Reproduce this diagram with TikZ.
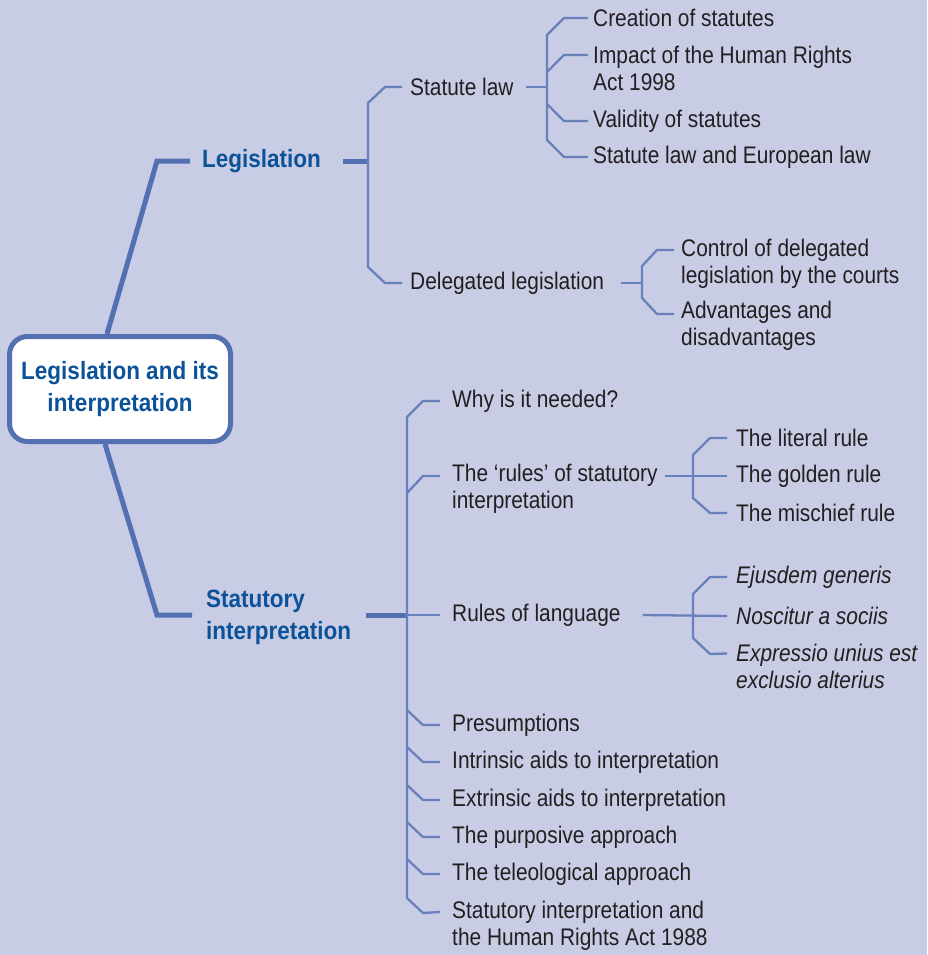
\documentclass[tikz,border=0pt]{standalone}
\usepackage{fontspec}
\setmainfont{Liberation Sans}[FakeStretch=0.87, BoldFeatures={FakeStretch=0.9}]
\definecolor{bg}{RGB}{200,204,228}
\definecolor{ln}{RGB}{104,128,188}
\definecolor{thk}{RGB}{82,112,178}
\definecolor{ttl}{RGB}{12,82,152}
\definecolor{txt}{RGB}{35,31,32}
\tikzset{
  leaf/.style={anchor=west, inner sep=0pt, font=\fontsize{24}{27}\selectfont, text=txt, align=left},
  head/.style={leaf, font=\fontsize{25}{32}\selectfont\bfseries, text=ttl},
  rootbox/.style={draw=thk, fill=white, line width=5pt, rounded corners=18pt, minimum width=221pt, minimum height=105pt, inner sep=0pt, align=center, font=\fontsize{25}{32}\selectfont\bfseries, text=ttl},
  thin/.style={draw=ln, line width=2.3pt},
  thick/.style={draw=thk, line width=5pt},
}
\begin{document}
\begin{tikzpicture}[x=1pt,y=-1pt]
\fill[bg] (0,0) rectangle (927,955);
\useasboundingbox (0,0) rectangle (927,955);

\node[rootbox] (root) at (120,389) {Legislation and its\\interpretation};
\node[head] (leg) at (202,161) {Legislation};
\node[head] (stat) at (206,617) {Statutory\\interpretation};

\node[leaf] (sl) at (410,87) {Statute law};
\node[leaf] (dl) at (410,283) {Delegated legislation};
\node[leaf] (c1) at (593,18) {Creation of statutes};
\node[leaf] (c2) at (593,68.5) {Impact of the Human Rights\\Act 1998};
\node[leaf] (c3) at (593,121) {Validity of statutes};
\node[leaf] (c4) at (593,157) {Statute law and European law};
\node[leaf] (d1) at (681,263.5) {Control of delegated\\legislation by the courts};
\node[leaf] (d2) at (681,326) {Advantages and\\disadvantages};

\node[leaf] (w) at (452,401) {Why is it needed?};
\node[leaf] (r) at (452,488.5) {The ‘rules’ of statutory\\interpretation};
\node[leaf] (lang) at (452,615) {Rules of language};
\node[leaf] (p1) at (452,725) {Presumptions};
\node[leaf] (p2) at (452,762) {Intrinsic aids to interpretation};
\node[leaf] (p3) at (452,800) {Extrinsic aids to interpretation};
\node[leaf] (p4) at (452,837) {The purposive approach};
\node[leaf] (p5) at (452,874) {The teleological approach};
\node[leaf] (p6) at (452,926) {Statutory interpretation and\\the Human Rights Act 1988};

\node[leaf] (r1) at (736,438) {The literal rule};
\node[leaf] (r2) at (736,476) {The golden rule};
\node[leaf] (r3) at (736,513) {The mischief rule};
\node[leaf,font=\fontsize{24}{27}\selectfont\itshape] (l1) at (736,577) {Ejusdem generis};
\node[leaf,font=\fontsize{24}{27}\selectfont\itshape] (l2) at (736,616) {Noscitur a sociis};
\node[leaf,font=\fontsize{24}{27}\selectfont\itshape] (l3) at (736,666.5) {Expressio unius est\\exclusio alterius};

% main branches
\draw[thick] ([xshift=-13pt]root.north) -- (157,161) -- ([xshift=-12pt]leg.west);
\draw[thick] ([xshift=-15pt]root.south) -- (157,615) -- ([xshift=-14pt,yshift=2pt]stat.west);

% Legislation
\draw[thick] ([xshift=22pt]leg.east) -- (368,161);
\draw[thin] ([xshift=-8pt]sl.west) -- (385,87) -- (368,103) -- (368,267) -- (385,283) -- ([xshift=-8pt]dl.west);

% Statute law
\draw[thin] ([xshift=12pt]sl.east) -- (547,87);
\draw[thin] ([xshift=-5pt]c1.west) -- (564,18) -- (547,35) -- (547,140) -- (564,157) -- ([xshift=-5pt]c4.west);
\draw[thin] (547,72) -- (564,55) -- ([xshift=-5pt,yshift=13.5pt]c2.west);
\draw[thin] (547,104) -- (564,121) -- ([xshift=-5pt]c3.west);

% Delegated legislation
\draw[thin] ([xshift=17pt]dl.east) -- (642,283);
\draw[thin] ([xshift=-7pt,yshift=13.5pt]d1.west) -- (657,250) -- (642,266) -- (642,298) -- (657,314) -- ([xshift=-7pt,yshift=12pt]d2.west);

% Statutory interpretation
\draw[thick] ([xshift=15pt,yshift=2pt]stat.east) -- (407,615);
\draw[thin] ([xshift=-12pt]w.west) -- (423,401) -- (407,417) -- (407,898) -- (423,913) -- ([xshift=-12pt,yshift=14pt]p6.west);
\draw[thin] (407,493) -- (423,476) -- ([xshift=-12pt,yshift=12.5pt]r.west);
\draw[thin] (407,615) -- ([xshift=-12pt]lang.west);
\draw[thin] (407,710) -- (423,725) -- ([xshift=-12pt]p1.west);
\draw[thin] (407,747) -- (423,762) -- ([xshift=-12pt]p2.west);
\draw[thin] (407,785) -- (423,800) -- ([xshift=-12pt]p3.west);
\draw[thin] (407,822) -- (423,837) -- ([xshift=-12pt]p4.west);
\draw[thin] (407,859) -- (423,874) -- ([xshift=-12pt]p5.west);

% rules of statutory interpretation
\draw[thin] ([xshift=7pt,yshift=12.5pt]r.east) -- ([xshift=-9pt]r2.west);
\draw[thin] ([xshift=-9pt]r1.west) -- (710,438) -- (693,455) -- (693,498) -- (710,513) -- ([xshift=-9pt]r3.west);

% rules of language
\draw[thin] ([xshift=22pt]lang.east) -- ([xshift=-9pt]l2.west);
\draw[thin] ([xshift=-9pt]l1.west) -- (710,577) -- (693,594) -- (693,638) -- (710,654) -- ([xshift=-9pt,yshift=13pt]l3.west);
\end{tikzpicture}
\end{document}
